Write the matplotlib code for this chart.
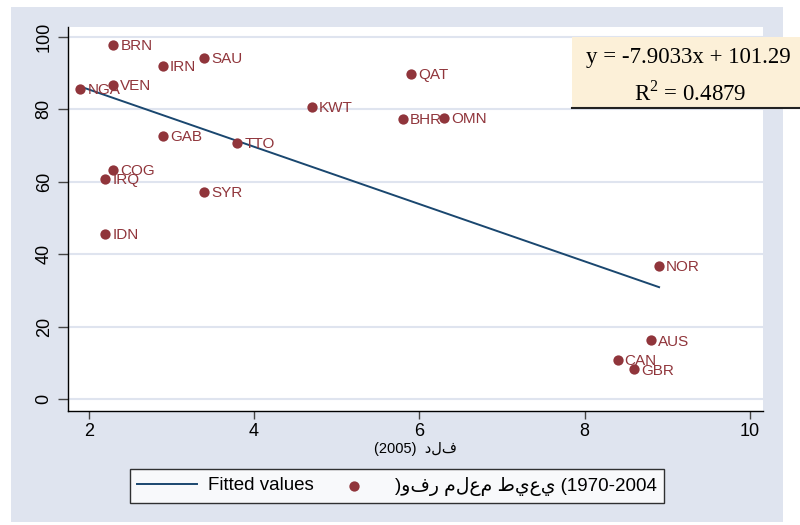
import matplotlib
matplotlib.use("Agg")
import matplotlib.pyplot as plt
from matplotlib.patches import Rectangle
from matplotlib.lines import Line2D
import numpy as np

plt.rcParams['font.family'] = ['Liberation Sans', 'DejaVu Sans']
plt.rcParams['mathtext.fontset'] = 'custom'
plt.rcParams['mathtext.rm'] = 'Liberation Serif'

# country codes and values
codes = ['BRN', 'IRN', 'SAU', 'NGA', 'VEN', 'QAT', 'KWT', 'BHR', 'OMN', 'GAB',
         'TTO', 'COG', 'IRQ', 'SYR', 'IDN', 'NOR', 'AUS', 'CAN', 'GBR']
x_vals = [2.3, 2.9, 3.4, 1.9, 2.3, 5.9, 4.7, 5.8, 6.3, 2.9,
          3.8, 2.3, 2.2, 3.4, 2.2, 8.9, 8.8, 8.4, 8.6]
y_vals = [97.8, 92.0, 94.2, 85.7, 86.8, 89.8, 80.7, 77.4, 77.7, 72.7,
          70.8, 63.4, 60.9, 57.3, 45.7, 36.9, 16.3, 11.0, 8.3]

# regression shown in the box
slope = -7.9033
intercept = 101.29
r2 = 0.4879

xticks = [2, 4, 6, 8, 10]
yticks = [0, 20, 40, 60, 80, 100]

x_label = '(2005)  دلف'
fit_label = 'Fitted values'
pts_label = ')وفر ملعم طيعي (1970-2004'

MAROON = '#90353b'
NAVY = '#1a476f'
BG = '#dfe4ef'

fig = plt.figure(figsize=(8, 5.25), dpi=100)
fig.patch.set_facecolor('white')

# grey graph region (cropped screenshot, white margins around it)
fig.add_artist(Rectangle((11/800, 3/525), (783-11)/800, (518-3)/525,
                         transform=fig.transFigure, facecolor=BG,
                         edgecolor='none', zorder=-5))

ax = fig.add_axes([68/800, 1-411/525, 695/800, 384/525])
ax.set_facecolor('white')

xs = np.array(x_vals)
fx = np.array([xs.min(), xs.max()])
fit_line, = ax.plot(fx, slope*fx + intercept, color=NAVY, lw=1.4, zorder=3)
pts = ax.scatter(x_vals, y_vals, s=55, color=MAROON, zorder=4, linewidths=0)

for c, xv, yv in zip(codes, x_vals, y_vals):
    ax.annotate(c, (xv, yv), xytext=(5, -1), textcoords='offset points',
                ha='left', va='center', color=MAROON, fontsize=11, zorder=5)

ax.set_xlim(1.75, 10.157)
ax.set_ylim(-3.2, 102.7)
ax.set_xticks(xticks)
ax.set_yticks(yticks)
ax.grid(axis='y', color=BG, lw=1.5)
ax.set_axisbelow(True)

for s in ['top', 'right']:
    ax.spines[s].set_visible(False)
for s in ['left', 'bottom']:
    ax.spines[s].set_color('black')
    ax.spines[s].set_linewidth(1.0)

ax.tick_params(axis='both', labelsize=13, color='#444444', width=1)
ax.tick_params(axis='x', length=6, pad=3)
ax.tick_params(axis='y', length=7, pad=4, labelrotation=90)
for lab in ax.get_yticklabels():
    lab.set_verticalalignment('center')

ax.set_xlabel(x_label, fontsize=10.5, labelpad=1)

# equation box
fig.add_artist(Rectangle((572/800, 1-108/525), 228/800, 71/525,
                         transform=fig.transFigure, facecolor='#fcf0d8',
                         edgecolor='none', zorder=6))
fig.add_artist(Line2D([572/800, 1.0], [1-108/525, 1-108/525],
                      transform=fig.transFigure, color='#222222', lw=1.5, zorder=7))
fig.text(688/800, 1-57/525, 'y = %.4fx + %.2f' % (slope, intercept),
         ha='center', va='center', fontsize=16.5, family='Liberation Serif', zorder=8)
fig.text(690/800, 1-93/525, 'R$^2$ = %.4f' % r2,
         ha='center', va='center', fontsize=16.5, family='Liberation Serif', zorder=8)

leg = fig.legend([fit_line, pts], [fit_label, pts_label], loc='center',
                 bbox_to_anchor=(397/800, 1-486/525), ncol=2, fontsize=13.5,
                 frameon=True, fancybox=False, edgecolor='black',
                 handlelength=3.2, handletextpad=0.6, columnspacing=0.5,
                 borderpad=0.4, scatterpoints=1)
leg.get_frame().set_linewidth(1.0)
leg.get_frame().set_facecolor('white')

fig.savefig('out.png', dpi=100, facecolor='white')
